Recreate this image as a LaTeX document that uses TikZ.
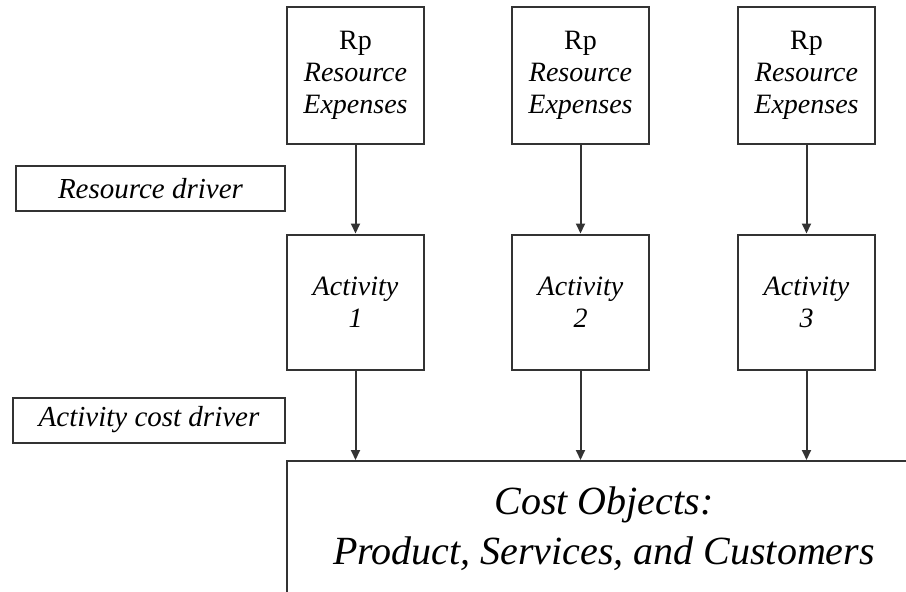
\documentclass[tikz,border=0pt]{standalone}
\usepackage{fontspec}
\setmainfont{Liberation Serif}
\usetikzlibrary{arrows.meta}
\definecolor{ln}{HTML}{333333}
\tikzset{
  box/.style={draw=ln, line width=2pt, fill=white, align=center, inner sep=0pt,
    font=\fontsize{28}{32}\selectfont},
  topbox/.style={box, minimum width=137pt, minimum height=137pt},
  actbox/.style={box, minimum width=137pt, minimum height=135pt},
  drvbox/.style={box, minimum height=45pt, font=\fontsize{29}{32}\selectfont\itshape},
  flow/.style={draw=ln, line width=2pt, -{Triangle[length=10pt,width=9pt]}}
}
\begin{document}
\begin{tikzpicture}[x=1pt,y=-1pt]
\useasboundingbox (0,0) rectangle (906,592);
\clip (0,0) rectangle (906,592);
\fill[white] (0,0) rectangle (906,592);
\node[topbox] (r1) at (355.5,75.5) {Rp\\ \textit{Resource}\\ \textit{Expenses}};
\node[topbox] (r2) at (580.5,75.5) {Rp\\ \textit{Resource}\\ \textit{Expenses}};
\node[topbox] (r3) at (806.5,75.5) {Rp\\ \textit{Resource}\\ \textit{Expenses}};
\node[actbox] (a1) at (355.5,302) {\textit{Activity}\\ \textit{1}};
\node[actbox] (a2) at (580.5,302) {\textit{Activity}\\ \textit{2}};
\node[actbox] (a3) at (806.5,302) {\textit{Activity}\\ \textit{3}};
\node[drvbox, minimum width=269pt] (rd) at (150.5,188.5) {Resource driver};
\node[drvbox, minimum width=272pt] (ad) at (149,420) {Activity cost driver};
\node[box, minimum width=634pt, minimum height=136pt,
  font=\fontsize{40}{50}\selectfont\itshape] (cost) at (604,529)
  {Cost Objects:\\ Product, Services, and Customers};
\draw[flow] (r1.south) -- (a1.north);
\draw[flow] (r2.south) -- (a2.north);
\draw[flow] (r3.south) -- (a3.north);
\draw[flow] (a1.south) -- (a1.south |- cost.north);
\draw[flow] (a2.south) -- (a2.south |- cost.north);
\draw[flow] (a3.south) -- (a3.south |- cost.north);
\end{tikzpicture}
\end{document}
